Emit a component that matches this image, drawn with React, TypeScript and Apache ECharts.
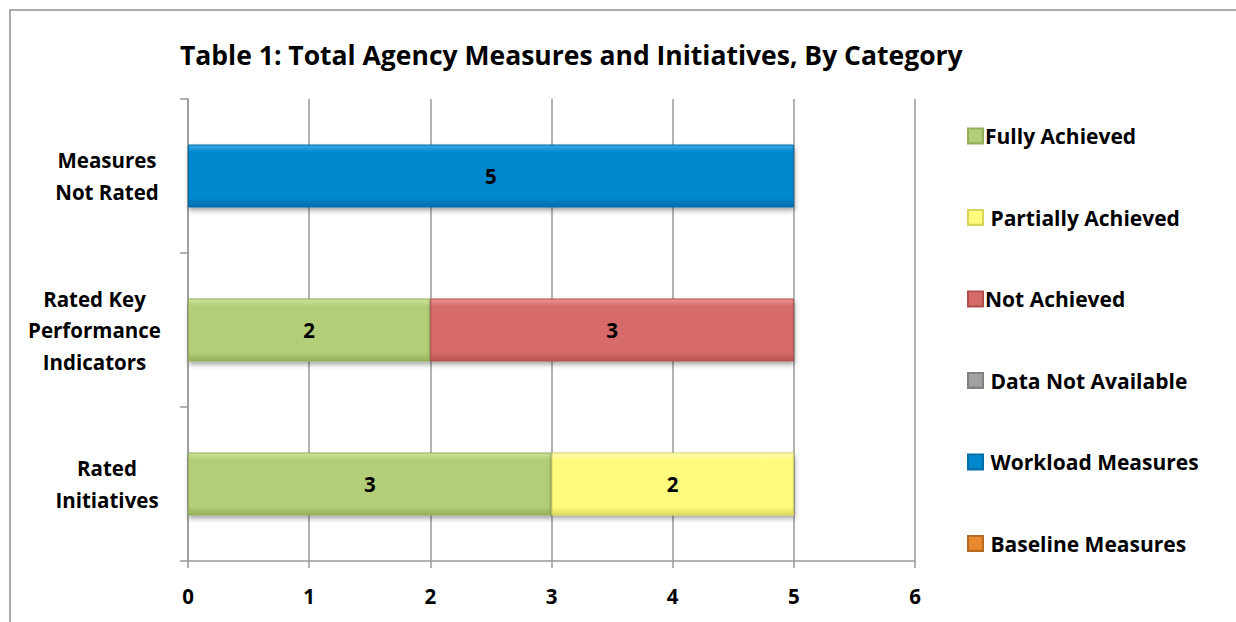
import React, { useEffect, useRef } from "react";
import * as echarts from "echarts";

const categories = ["Rated Initiatives", "Rated Key Performance Indicators", "Measures Not Rated"];
const categoryLines: Record<string, string[]> = {
  "Rated Initiatives": ["Rated", "Initiatives"],
  "Rated Key Performance Indicators": ["Rated Key", "Performance", "Indicators"],
  "Measures Not Rated": ["Measures", "Not Rated"],
};
const seriesNames = [
  "Fully Achieved",
  " Partially Achieved",
  "Not Achieved",
  " Data Not Available",
  " Workload Measures",
  " Baseline Measures",
];
const fullyAchieved = [3, 2, null];
const partiallyAchieved = [2, null, null];
const notAchieved = [null, 3, null];
const dataNotAvailable = [null, null, null];
const workloadMeasures = [null, null, 5];
const baselineMeasures = [null, null, null];
const xTicks = [0, 1, 2, 3, 4, 5, 6];

const colors = ["#B3CD78", "#FFFB7D", "#D76B6A", "#A0A0A0", "#0088CF", "#E8892F"];
const lights = ["#CDE39A", "#FFFFB4", "#EA9594", "#C4C4C4", "#3EAAE6", "#F5AE60"];
const darks = ["#95B05A", "#DEDA5E", "#B65352", "#7E7E7E", "#006BA8", "#B86A20"];
const borders = ["#93AD5A", "#D8D45C", "#B34E4D", "#808080", "#006CA8", "#B86A20"];

const FONT = "'Open Sans', Lato, sans-serif";

export default function App() {
  const ref = useRef<HTMLDivElement>(null);
  useEffect(() => {
    document.body.style.margin = "0";
    const chart = echarts.init(ref.current!, null, { renderer: "svg" });
    const values = [fullyAchieved, partiallyAchieved, notAchieved, dataNotAvailable, workloadMeasures, baselineMeasures];
    const richKeys: Record<string, string> = {
      "Rated Initiatives": "i",
      "Rated Key Performance Indicators": "k",
      "Measures Not Rated": "m",
    };
    const richBase = { fontFamily: FONT, fontWeight: "bold", fontSize: 20.5, color: "#000", lineHeight: 31.5, align: "center" };
    chart.setOption({
      animation: false,
      textStyle: { fontFamily: FONT },
      title: {
        text: "Table 1: Total Agency Measures and Initiatives, By Category",
        left: 175,
        top: 36,
        textStyle: { fontFamily: FONT, fontWeight: "bold", fontSize: 26.5, color: "#000" },
      },
      graphic: [
        {
          type: "rect",
          shape: { x: 10, y: 10, width: 1400, height: 800 },
          style: { fill: "none", stroke: "#8f8f8f", lineWidth: 1.5 },
          silent: true,
          z: -10,
        },
      ],
      legend: {
        orient: "vertical",
        left: 962,
        top: 120,
        itemWidth: 15,
        itemHeight: 15,
        itemGap: 59.5,
        icon: "rect",
        data: seriesNames,
        textStyle: { fontFamily: FONT, fontWeight: "bold", fontSize: 21, color: "#000", lineHeight: 22, padding: [0, 0, 0, -3] },
      },
      grid: { left: 188, right: 321, top: 99, bottom: 61, containLabel: false },
      xAxis: {
        type: "value",
        min: 0,
        max: 6,
        interval: 1,
        axisLine: { show: true, lineStyle: { color: "#999", width: 1.5 } },
        axisTick: { show: true, length: 7, lineStyle: { color: "#999", width: 1.5 } },
        splitLine: { show: true, lineStyle: { color: "#999", width: 1.5 } },
        axisLabel: {
          margin: 24,
          fontFamily: FONT,
          fontWeight: "bold",
          fontSize: 20.5,
          color: "#000",
          formatter: (v: number) => (xTicks.includes(v) ? String(v) : ""),
        },
      },
      yAxis: {
        type: "category",
        data: categories,
        axisLine: { show: true, lineStyle: { color: "#999", width: 1.5 } },
        axisTick: { show: true, length: 8, alignWithLabel: false, lineStyle: { color: "#999", width: 1.5 } },
        axisLabel: {
          margin: 26,
          align: "right",
          formatter: (v: string) => {
            const k = richKeys[v];
            return categoryLines[v].map((l) => `{${k}|${l}}`).join("\n");
          },
          rich: {
            m: { ...richBase, width: 110 },
            k: { ...richBase, width: 135 },
            i: { ...richBase, width: 110 },
          },
        },
      },
      series: seriesNames.map((name, i) => ({
        name,
        type: "bar",
        stack: "total",
        barWidth: 63,
        data: values[i],
        itemStyle: {
          color: new echarts.graphic.LinearGradient(0, 0, 0, 1, [
            { offset: 0, color: lights[i] },
            { offset: 0.12, color: colors[i] },
            { offset: 0.86, color: colors[i] },
            { offset: 1, color: darks[i] },
          ]),
          borderColor: borders[i],
          borderWidth: 1,
          shadowBlur: 5,
          shadowOffsetY: 3,
          shadowOffsetX: 1,
          shadowColor: "rgba(0,0,0,0.35)",
        },
        label: {
          show: true,
          position: "inside",
          fontFamily: FONT,
          fontWeight: "bold",
          fontSize: 20.5,
          color: "#000",
          formatter: (p: any) => (p.value == null ? "" : String(p.value)),
        },
      })),
    });
    return () => chart.dispose();
  }, []);
  return <div ref={ref} style={{ width: 1236, height: 622 }} />;
}
